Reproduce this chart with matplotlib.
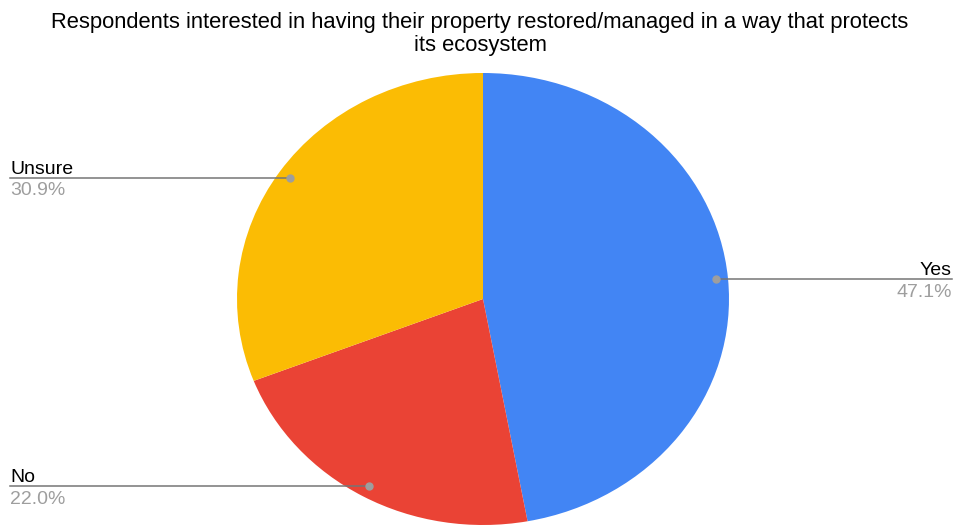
import matplotlib.pyplot as plt
import numpy as np

plt.rcParams['font.family'] = ['Liberation Sans', 'DejaVu Sans']

labels = ['Yes', 'No', 'Unsure']
shares = [47.1, 22.0, 30.9]
colors = ['#4285f4', '#ea4335', '#fbbc04']
title_lines = ['Respondents interested in having their property restored/managed in a way that protects',
               'its ecosystem']

W, H = 960, 527
cx, cy = 483, 299      # pie centre in pixels (from top)
rx, ry = 246, 226      # the pie is drawn slightly wider than tall

fig = plt.figure(figsize=(W / 100, H / 100), dpi=100)
ax = fig.add_axes([0, 0, 1, 1])
ax.pie(shares, colors=colors, startangle=90, counterclock=False,
       wedgeprops=dict(linewidth=0))
ax.set_aspect('auto')
ax.set_xlim(-cx / rx, (W - cx) / rx)
ax.set_ylim((cy - H) / ry, cy / ry)
ax.axis('off')

# callout dots sit inside each wedge at the middle angle
fracs = np.array(shares) / sum(shares)
ends = 90 - 360 * np.cumsum(fracs)
mids = ends + 180 * fracs
for lab, val, ang in zip(labels, shares, mids):
    dx = 0.95 * np.cos(np.radians(ang))
    dy = 0.95 * np.sin(np.radians(ang))
    right = dx > 0
    x_end = (952 - cx) / rx if right else (10 - cx) / rx
    ax.plot([dx, x_end], [dy, dy], color='#757575', lw=1.1, zorder=3)
    ax.plot(dx, dy, 'o', color='#9e9e9e', ms=5, zorder=4)
    ha = 'right' if right else 'left'
    ax.annotate(lab, (x_end, dy), xytext=(0, 3), textcoords='offset points',
                ha=ha, va='baseline', fontsize=14, color='black')
    ax.annotate(f'{val:.1f}%', (x_end, dy), xytext=(0, -3), textcoords='offset points',
                ha=ha, va='top', fontsize=14, color='#9e9e9e')

fig.text(0.5, 1 - 28 / H, title_lines[0], ha='center', va='baseline', fontsize=15.8)
fig.text(0.5, 1 - 51 / H, title_lines[1], ha='center', va='baseline', fontsize=15.8)

fig.savefig('out.png', dpi=100)
